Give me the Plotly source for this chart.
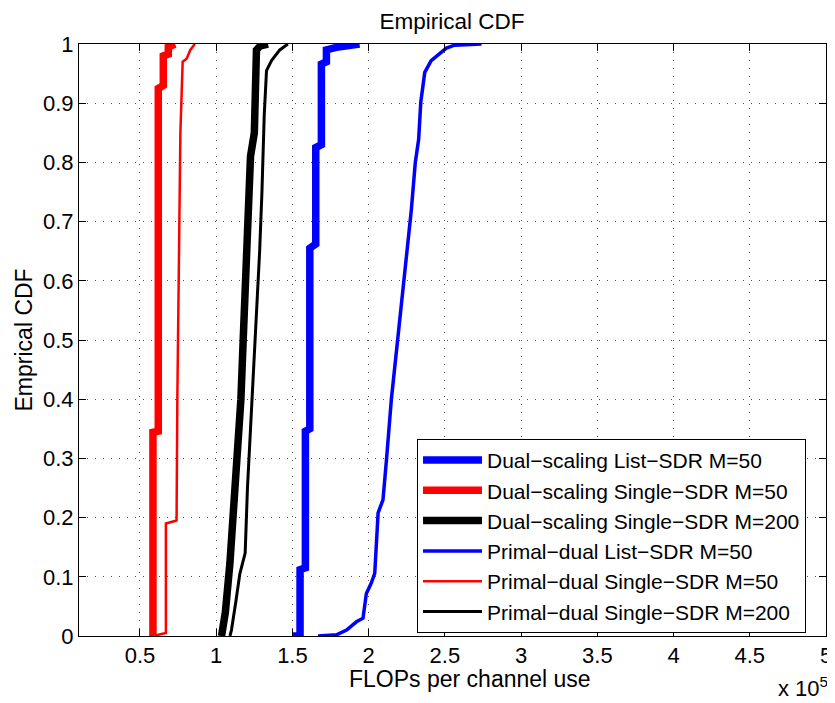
import plotly.graph_objects as go

# FLOPs per channel use in units of 1e5, empirical CDF values
ds_list50_x = [1.50, 1.55, 1.55, 1.585, 1.585, 1.614, 1.614, 1.653, 1.653, 1.69, 1.69, 1.723, 1.723, 1.80, 1.94]
ds_list50_y = [0.0, 0.0, 0.112, 0.115, 0.346, 0.35, 0.655, 0.662, 0.825, 0.83, 0.966, 0.97, 0.99, 0.995, 1.0]

ds_single50_x = [0.585, 0.585, 0.62, 0.62, 0.653, 0.653, 0.686, 0.686, 0.73]
ds_single50_y = [0.0, 0.344, 0.346, 0.925, 0.93, 0.98, 0.983, 0.995, 1.0]

ds_single200_x = [1.035, 1.06, 1.09, 1.122, 1.15, 1.162, 1.177, 1.195, 1.21, 1.225, 1.25, 1.258, 1.264, 1.29, 1.34]
ds_single200_y = [0.0, 0.04, 0.123, 0.236, 0.33, 0.40, 0.50, 0.60, 0.68, 0.81, 0.85, 0.95, 0.99, 0.997, 1.0]

pd_list50_x = [1.668, 1.789, 1.855, 1.92, 1.963, 1.985, 2.018, 2.04, 2.062, 2.094, 2.117, 2.149, 2.19, 2.233,
               2.248, 2.28, 2.306, 2.328, 2.342, 2.368, 2.41, 2.466, 2.51, 2.564, 2.74]
pd_list50_y = [0.0, 0.002, 0.01, 0.024, 0.03, 0.072, 0.09, 0.106, 0.208, 0.23, 0.298, 0.40, 0.50, 0.60,
               0.636, 0.72, 0.80, 0.839, 0.902, 0.952, 0.972, 0.983, 0.993, 0.998, 1.0]

pd_single50_x = [0.585, 0.67, 0.67, 0.74, 0.745, 0.755, 0.765, 0.78, 0.806, 0.83, 0.86]
pd_single50_y = [0.0, 0.005, 0.19, 0.195, 0.40, 0.65, 0.85, 0.97, 0.975, 0.99, 1.0]

pd_single200_x = [1.09, 1.10, 1.13, 1.155, 1.19, 1.205, 1.225, 1.24, 1.265, 1.285, 1.30, 1.315, 1.33, 1.363, 1.417, 1.47]
pd_single200_y = [0.0, 0.01, 0.06, 0.105, 0.14, 0.25, 0.35, 0.42, 0.55, 0.65, 0.75, 0.88, 0.955, 0.972, 0.99, 1.0]

x_ticks = [0.5, 1, 1.5, 2, 2.5, 3, 3.5, 4, 4.5, 5]
y_ticks = [0, 0.1, 0.2, 0.3, 0.4, 0.5, 0.6, 0.7, 0.8, 0.9, 1]

series = [
    ("Dual\u2212scaling List\u2212SDR M=50", ds_list50_x, ds_list50_y, "#0000ff", 7.5),
    ("Dual\u2212scaling Single\u2212SDR M=50", ds_single50_x, ds_single50_y, "#ff0000", 7.5),
    ("Dual\u2212scaling Single\u2212SDR M=200", ds_single200_x, ds_single200_y, "#000000", 7.5),
    ("Primal\u2212dual List\u2212SDR M=50", pd_list50_x, pd_list50_y, "#0000ff", 3.5),
    ("Primal\u2212dual Single\u2212SDR M=50", pd_single50_x, pd_single50_y, "#ff0000", 2.5),
    ("Primal\u2212dual Single\u2212SDR M=200", pd_single200_x, pd_single200_y, "#000000", 3),
]

fig = go.Figure()
for name, xs, ys, col, w in series:
    fig.add_trace(go.Scatter(x=xs, y=ys, mode="lines", name=name,
                             line=dict(color=col, width=w)))

font = "Liberation Sans, Arial, Helvetica, sans-serif"
axis_style = dict(showline=True, linecolor="black", linewidth=1, mirror="ticks",
                  ticks="inside", ticklen=7, tickcolor="black", automargin=False,
                  showgrid=True, gridcolor="rgba(0,0,0,0.7)", griddash="1px,7px", gridwidth=1,
                  zeroline=False, tickfont=dict(size=22, color="black"))

# page body has an 8px margin, so the figure is 8px smaller than the window
fig.update_layout(
    width=827, height=695,
    paper_bgcolor="white", plot_bgcolor="white",
    font=dict(family=font, color="black", size=22),
    margin=dict(l=71, r=9, t=36, b=67),
    title=dict(text="Empirical CDF", x=0.5369, xanchor="center", y=0.9817, yanchor="middle",
               font=dict(size=22.5)),
    xaxis=dict(range=[0.1, 5], tickvals=x_ticks, **axis_style),
    yaxis=dict(range=[0, 1], tickvals=y_ticks, **axis_style),
    legend=dict(x=0.4525, y=0.333, xanchor="left", yanchor="top",
                bgcolor="white", bordercolor="black", borderwidth=1,
                font=dict(size=21), tracegroupgap=0, itemwidth=59,
                entrywidth=335, entrywidthmode="pixels"),
    showlegend=True,
)

fig.add_annotation(text="FLOPs per channel use", xref="paper", yref="paper",
                   x=0.3588, y=-0.0726, xanchor="left", yanchor="middle",
                   showarrow=False, font=dict(size=23))
fig.add_annotation(text="Emprical CDF", xref="paper", yref="paper", textangle=-90,
                   x=-0.073, y=0.5, xanchor="center", yanchor="middle",
                   showarrow=False, font=dict(size=23))
fig.add_annotation(text="x 10<sup>5</sup>", xref="paper", yref="paper", x=1.006, y=-0.1125,
                   xanchor="right", yanchor="bottom", showarrow=False, font=dict(size=22))

fig.write_html("out.html")
